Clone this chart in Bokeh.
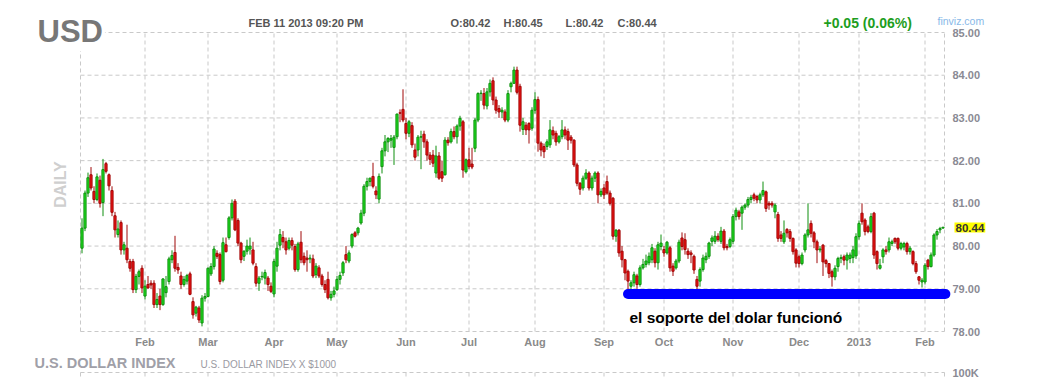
import numpy as np
import pandas as pd
from bokeh.plotting import figure
from bokeh.models import (ColumnDataSource, Range1d, FixedTicker, NumeralTickFormatter,
                          Label, Arrow, LinearAxis)
from bokeh.embed import file_html
from bokeh.resources import INLINE

# ---------------- data ----------------
first_day = "2012-01-03"
last_day = "2013-02-11"
market_holidays = ["2012-12-25", "2013-01-01"]

month_tick_labels = ["Feb", "Mar", "Apr", "May", "Jun", "Jul", "Aug", "Sep",
                     "Oct", "Nov", "Dec", "2013", "Feb"]
price_ticks = [78, 79, 80, 81, 82, 83, 84, 85]
volume_ticks = [100]
volume_tick_labels = ["100K"]

open_ = [
    79.95,80.42,81.24,81.67,81.28,81.09,81.54,81.02,81.93,81.67,81.30,80.71,80.27,80.55,79.91,79.95,79.64,79.64,78.98,79.29,79.48,
    78.83,79.10,79.13,79.13,78.63,78.83,78.63,78.91,79.17,79.68,79.85,79.50,79.30,79.10,79.18,79.35,78.70,78.43,78.55,78.20,78.78,
    78.82,79.35,79.52,79.83,79.80,79.20,80.03,80.20,80.66,81.05,80.60,80.07,79.76,79.88,79.93,79.91,79.52,79.13,79.28,79.25,79.25,79.06,
    78.88,79.53,80.02,80.20,80.10,79.95,80.13,79.99,79.45,80.09,79.76,79.72,79.70,79.70,79.33,79.49,79.30,79.10,79.22,78.79,78.87,
    78.98,79.22,79.37,79.80,79.65,80.00,80.31,80.31,80.54,80.77,81.40,81.51,81.63,81.29,81.10,81.86,82.23,82.44,82.48,82.31,82.56,83.12,83.20,
    82.87,82.64,82.82,82.25,82.25,82.55,82.62,82.44,82.13,82.13,81.71,82.11,81.74,81.67,82.48,82.44,82.68,82.56,82.81,82.91,81.74,
    82.02,81.92,82.29,82.95,83.57,83.57,83.28,83.61,83.87,83.42,83.22,83.14,83.14,82.95,83.73,83.81,84.12,83.74,82.73,82.83,82.87,82.76,
    83.18,83.43,82.41,82.33,82.33,82.37,82.70,82.64,82.44,82.56,82.72,82.68,82.55,82.48,81.90,81.47,81.36,81.59,81.71,81.36,81.59,81.71,81.20,
    81.36,81.51,81.24,81.12,80.23,80.37,79.88,79.68,79.41,79.06,79.14,79.30,79.10,79.49,79.57,79.61,79.68,79.88,79.61,79.99,
    79.92,79.84,79.96,79.53,79.49,79.65,80.19,80.15,79.88,79.84,79.76,79.22,79.18,79.45,79.68,79.76,80.11,80.11,80.23,80.11,80.35,79.99,79.99,
    80.11,80.69,80.80,80.77,80.91,80.96,81.09,81.20,81.16,81.08,81.20,81.27,81.00,81.00,80.80,80.74,80.26,80.10,80.39,80.34,80.18,79.91,
    79.75,79.59,79.91,80.26,80.53,80.31,80.10,79.91,80.02,79.66,79.59,79.40,79.28,79.52,79.71,79.75,79.67,79.71,79.73,79.77,
    80.22,80.77,80.61,80.45,80.34,80.77,79.87,79.48,79.75,79.91,79.91,80.06,80.18,80.18,79.95,79.98,80.06,79.87,79.87,79.59,79.28,79.16,
    79.16,79.67,79.52,79.79,80.26,80.38,80.42,
]
high = [
    80.65,81.30,81.72,81.85,81.40,81.70,81.65,82.04,81.97,81.70,81.40,80.80,80.60,80.60,80.10,80.50,79.70,79.70,79.35,79.45,79.55,
    79.20,79.30,79.20,79.20,78.90,79.00,79.25,79.30,79.75,79.90,80.24,79.60,79.40,79.30,79.35,79.40,78.80,78.60,78.60,78.85,78.90,
    79.50,79.60,80.00,79.90,79.85,80.20,80.20,80.70,81.09,81.10,80.65,80.10,79.90,80.15,80.20,80.10,79.60,79.30,79.40,79.45,79.30,79.15,
    79.70,80.10,80.40,80.35,80.20,80.20,80.20,80.05,80.10,80.35,79.85,79.90,79.80,79.80,79.60,79.55,79.35,79.20,79.40,78.95,79.05,
    79.30,79.40,79.65,80.00,79.90,80.30,80.35,80.45,80.85,81.45,81.60,81.60,81.95,81.40,81.70,82.30,82.60,82.55,82.60,82.60,83.10,83.20,83.67,
    83.00,82.95,82.90,82.40,82.60,82.70,82.70,82.50,82.20,82.25,82.35,82.20,82.00,82.55,82.55,82.75,82.80,82.85,83.05,82.95,82.05,
    82.30,82.30,83.00,83.60,83.65,83.70,83.70,83.90,83.95,83.50,83.30,83.25,83.20,83.65,83.85,84.20,84.20,83.80,83.00,82.90,82.90,83.25,
    83.60,83.50,82.45,82.40,82.50,82.95,82.80,82.70,82.60,82.95,82.80,82.75,82.60,82.50,81.95,81.50,81.65,81.80,81.75,81.65,81.75,81.75,81.35,
    81.45,81.65,81.30,81.15,80.40,80.40,80.00,79.70,79.45,79.20,79.40,79.35,79.55,79.70,79.80,79.85,80.05,79.95,80.10,80.27,
    80.00,80.12,80.00,79.60,79.70,80.15,80.32,80.30,79.95,79.90,79.80,79.30,79.50,79.80,79.85,80.10,80.25,80.35,80.30,80.45,80.40,80.05,80.20,
    80.75,80.90,80.85,80.95,81.00,81.15,81.20,81.25,81.20,81.25,81.51,81.30,81.05,81.05,81.00,80.80,80.35,80.60,80.42,80.40,80.20,79.95,
    79.80,79.85,80.30,81.00,80.60,80.35,80.15,80.00,80.05,79.70,79.60,79.45,79.55,79.75,79.80,79.80,79.85,79.85,80.00,80.30,
    80.60,81.00,80.65,80.50,80.77,80.80,79.90,79.70,79.95,80.00,80.20,80.15,80.20,80.20,80.10,80.10,80.10,80.00,79.90,79.65,79.30,79.25,
    79.60,79.70,79.85,80.30,80.40,80.45,80.45,
]
low = [
    79.83,80.35,81.15,81.30,81.00,81.05,80.90,80.70,81.70,81.30,80.70,80.20,80.20,79.80,79.80,79.60,79.40,78.90,78.90,79.10,78.90,
    78.75,79.00,79.00,78.55,78.55,78.50,78.60,78.80,79.10,79.60,79.40,79.35,79.00,79.05,79.10,78.85,78.30,78.35,78.20,78.12,78.70,
    78.80,79.30,79.45,79.70,79.10,79.15,79.85,80.15,80.60,80.35,80.00,79.60,79.65,79.80,79.80,79.55,79.05,78.95,79.20,79.10,78.95,78.90,
    78.80,79.40,79.90,79.95,79.80,79.90,79.90,79.40,79.40,79.60,79.55,79.40,79.60,79.25,79.25,79.25,79.05,78.90,78.75,78.72,78.80,
    78.95,79.10,79.30,79.60,79.60,79.95,80.20,80.25,80.50,80.70,81.30,81.40,81.35,81.10,81.00,81.70,82.10,82.20,82.30,81.90,82.50,82.90,82.90,
    82.50,82.55,82.30,82.00,82.10,81.80,82.30,82.00,81.90,81.85,81.60,81.55,81.50,81.65,82.35,82.40,82.50,82.40,82.70,81.60,81.70,
    81.80,81.80,82.20,82.90,83.40,83.20,83.20,83.50,83.30,83.10,83.00,83.00,82.90,82.90,83.60,83.80,83.55,82.68,82.60,82.60,82.40,82.70,
    83.10,82.21,82.10,82.06,82.25,82.30,82.50,82.35,82.40,82.50,82.50,82.25,82.40,81.85,81.40,81.20,81.30,81.55,81.30,81.30,81.50,81.00,81.15,
    81.10,81.20,80.95,80.15,80.10,79.75,79.50,79.20,78.85,78.85,79.05,79.00,79.05,79.45,79.50,79.55,79.60,79.50,79.45,79.90,
    79.75,79.80,79.40,79.30,79.45,79.60,79.90,79.80,79.70,79.60,79.35,78.98,79.05,79.40,79.60,79.70,80.00,80.05,80.10,80.05,79.90,79.90,79.95,
    80.05,80.60,80.62,80.38,80.85,80.90,81.00,81.05,81.00,81.00,81.15,80.80,80.85,80.90,80.65,80.10,80.10,80.05,80.20,80.10,79.80,79.50,
    79.50,79.55,79.85,80.20,80.20,79.95,79.60,79.85,79.30,79.50,79.25,79.05,79.20,79.40,79.60,79.55,79.45,79.60,79.60,79.70,
    80.15,80.50,80.25,80.30,80.30,79.70,79.45,79.45,79.60,79.80,79.85,80.00,80.05,79.90,79.90,79.90,79.80,79.80,79.55,79.35,79.10,79.03,
    79.10,79.45,79.50,79.75,80.15,80.30,80.42,
]
close = [
    80.42,81.24,81.60,81.36,81.09,81.62,81.00,81.79,81.75,81.41,80.79,80.38,80.40,79.91,80.03,79.68,79.48,78.98,79.29,79.40,79.02,
    79.06,79.02,79.09,78.63,78.75,78.63,79.23,79.05,79.70,79.78,79.48,79.44,79.10,79.22,79.31,78.87,78.39,78.57,78.27,78.78,78.82,
    79.48,79.52,79.93,79.76,79.17,80.08,79.87,80.66,81.00,80.38,80.07,79.68,79.88,80.00,80.00,79.60,79.13,79.25,79.29,79.38,79.10,78.94,
    79.64,79.95,80.27,80.10,79.91,80.13,80.02,79.45,80.05,79.68,79.61,79.68,79.72,79.30,79.53,79.30,79.10,78.98,78.79,78.87,78.95,
    79.22,79.31,79.61,79.68,79.84,80.27,80.23,80.42,80.77,81.40,81.51,81.59,81.40,81.20,81.63,82.23,82.44,82.52,82.52,82.55,83.09,83.11,82.95,
    82.64,82.91,82.37,82.08,82.55,82.56,82.44,82.13,82.03,81.94,82.11,81.59,81.59,82.48,82.42,82.68,82.56,82.81,82.99,81.78,82.02,
    81.86,81.85,82.95,83.57,83.58,83.30,83.61,83.81,83.42,83.18,83.14,83.18,82.95,83.57,83.81,84.12,83.60,82.83,82.91,82.72,82.72,83.18,
    83.43,82.41,82.25,82.21,82.44,82.72,82.60,82.44,82.56,82.72,82.60,82.48,82.48,81.90,81.47,81.33,81.59,81.71,81.36,81.59,81.71,81.20,81.28,
    81.20,81.24,81.00,80.23,80.37,79.84,79.68,79.37,79.18,79.14,79.33,79.10,79.49,79.57,79.65,79.76,79.96,79.61,80.03,80.07,
    79.84,80.09,79.49,79.41,79.65,80.09,79.99,79.92,79.80,79.80,79.44,79.06,79.45,79.72,79.76,80.07,80.19,80.23,80.15,80.35,79.96,79.96,80.15,
    80.69,80.84,80.69,80.91,80.96,81.09,81.14,81.12,81.08,81.20,81.30,80.88,80.96,80.96,80.96,80.18,80.18,80.30,80.31,80.18,79.87,79.60,
    79.59,79.79,80.26,80.38,80.30,80.10,79.91,79.93,79.63,79.59,79.36,79.28,79.48,79.71,79.73,79.67,79.79,79.79,79.91,80.22,
    80.53,80.57,80.34,80.34,80.69,79.79,79.59,79.55,79.91,79.87,80.10,80.10,80.10,79.95,80.06,80.06,79.87,79.95,79.59,79.40,79.20,79.20,
    79.55,79.52,79.79,80.26,80.34,80.41,80.44,
]

support_level = 78.88
support_start = "2012-09-13"

# ---------------- derived ----------------
dates = pd.bdate_range(first_day, last_day)
dates = dates[~dates.isin(pd.to_datetime(market_holidays))]
n = len(dates)
assert n == len(open_) == len(high) == len(low) == len(close), (n, len(open_), len(high), len(low), len(close))

o = np.array(open_); c = np.array(close)
h = np.maximum(np.array(high), np.maximum(o, c))
l = np.minimum(np.array(low), np.minimum(o, c))
idx = np.arange(n)
up = c > o

GREEN_FILL, GREEN_LINE = "#1ee01e", "#0f8f0f"
RED_FILL, RED_LINE = "#ee1111", "#a00808"

src = ColumnDataSource(dict(
    x=idx, h=h, l=l,
    top=np.maximum(o, c), bottom=np.minimum(o, c),
    fill=[GREEN_FILL if u else RED_FILL for u in up],
    line=[GREEN_LINE if u else RED_LINE for u in up],
))

periods = dates.to_period("M")
month_idx = [i for i in range(1, n) if periods[i] != periods[i - 1]]

# ---------------- page geometry ----------------
FONT = "Liberation Sans"
GRID = "#c9c9c9"
DASH = "4 3"
W, H = 1058, 379
TOP, BOTTOM = 32, 331            # pixel rows of 85.00 and 78.00
LEFT, RIGHT = 80, 944            # pixel columns of the panel edges
VOL_TOP = 372
P_LO, P_HI = price_ticks[0], price_ticks[-1]

xs = (RIGHT - LEFT) / n                      # pixels per trading day
ys = (BOTTOM - TOP) / (P_HI - P_LO)          # pixels per index point
x_lo, x_hi = -0.5, n - 0.5
x_start = x_lo - LEFT / xs
x_end = x_start + W / xs
y_end = P_HI + TOP / ys
y_start = P_HI - (H - TOP) / ys

# volume scale: 100K at row VOL_TOP, 0 at 40 px below
v_pp = 100.0 / 40
v_start = volume_ticks[0] - (H - VOL_TOP) * v_pp
v_end = volume_ticks[0] + VOL_TOP * v_pp

p = figure(width=W, height=H, output_backend="svg", toolbar_location=None,
           x_range=Range1d(x_start, x_end), y_range=Range1d(y_start, y_end),
           x_axis_location=None, y_axis_location=None, min_border=0)
p.extra_y_ranges = {"vol": Range1d(v_start, v_end)}
p.background_fill_color = "white"
p.border_fill_color = "white"
p.outline_line_color = None
p.grid.visible = False

# ---- dashed grid (price panel) ----
vx = month_idx + [x_lo, x_hi]
p.segment(x0=vx, x1=vx, y0=[P_LO] * len(vx), y1=[P_HI] * len(vx),
          line_color=GRID, line_dash=DASH, line_width=1)
p.segment(x0=[x_lo] * len(price_ticks), x1=[x_hi] * len(price_ticks),
          y0=price_ticks, y1=price_ticks, line_color=GRID, line_dash=DASH, line_width=1)
# ---- dashed grid (volume strip) ----
p.segment(x0=vx, x1=vx, y0=[volume_ticks[0]] * len(vx), y1=[v_start] * len(vx),
          y_range_name="vol", line_color=GRID, line_dash=DASH, line_width=1)
p.segment(x0=[x_lo], x1=[x_hi], y0=volume_ticks, y1=volume_ticks,
          y_range_name="vol", line_color=GRID, line_dash=DASH, line_width=1)

# ---- candles ----
p.segment(x0="x", y0="l", x1="x", y1="h", source=src, line_color="line", line_width=1)
p.vbar(x="x", width=0.72, top="top", bottom="bottom", source=src,
       fill_color="fill", line_color="line", line_width=1)

# ---- support line ----
s0 = float(dates.get_loc(pd.Timestamp(support_start)))
p.add_layout(Arrow(start=None, end=None, x_start=s0, y_start=support_level,
                   x_end=x_hi + 0.3, y_end=support_level,
                   line_color="#0000ff", line_width=10, line_cap="round"))

# ---- axes (drawn at fixed locations along the panel edges) ----
def style_axis(ax, color):
    ax.axis_line_color = None
    ax.major_tick_line_color = None
    ax.minor_tick_line_color = None
    ax.major_tick_out = 0
    ax.major_tick_in = 0
    ax.minor_tick_out = 0
    ax.minor_tick_in = 0
    ax.major_label_text_font = FONT
    ax.major_label_text_font_style = "bold"
    ax.major_label_text_font_size = "11px"
    ax.major_label_text_color = color

xa = LinearAxis(ticker=FixedTicker(ticks=month_idx), fixed_location=P_LO,
                major_label_overrides={int(i): t for i, t in zip(month_idx, month_tick_labels)})
style_axis(xa, "#8a8a8a")
xa.major_label_standoff = 4
p.add_layout(xa, "below")

ya = LinearAxis(ticker=FixedTicker(ticks=price_ticks), fixed_location=x_hi,
                formatter=NumeralTickFormatter(format="0.00"))
style_axis(ya, "#8a8a94")
ya.major_label_standoff = 8
p.add_layout(ya, "right")

va = LinearAxis(y_range_name="vol", ticker=FixedTicker(ticks=volume_ticks), fixed_location=x_hi,
                major_label_overrides={v: t for v, t in zip(volume_ticks, volume_tick_labels)})
style_axis(va, "#8a8a94")
va.major_label_standoff = 8
p.add_layout(va, "right")

# ---- texts ----
def lab(text, px, py, size, color, style="normal", align="left", angle=0.0, **kw):
    p.add_layout(Label(x=px, y=H - py, x_units="screen", y_units="screen",
                       text=text, text_font=FONT, text_font_size=size,
                       text_color=color, text_font_style=style, text_align=align,
                       text_baseline="middle", angle=angle, **kw))

lab("el soporte del dolar funcionó", 629, 317, "15.5px", "#000000", "bold")
lab("USD", 35, 31, "31px", "#777777", "bold", background_fill_color="white", padding=2)
lab("FEB 11 2013 09:20 PM", 248, 22, "11px", "#555555", "bold")
lab("O:80.42", 450, 22, "11px", "#555555", "bold")
lab("H:80.45", 503, 22, "11px", "#555555", "bold")
lab("L:80.42", 565, 22, "11px", "#555555", "bold")
lab("C:80.44", 617, 22, "11px", "#555555", "bold")
lab("+0.05 (0.06%)", 823, 22, "14px", "#1e9e1e", "bold")
lab("finviz.com", 937, 20, "10.5px", "#88b8e8")
lab("DAILY", 60, 184, "16px", "#cfcfcf", "bold", align="center", angle=np.pi / 2)
lab("80.44", 954, 227, "11.5px", "#333333", "bold",
    background_fill_color="#ffff00", padding=1)
lab("U.S. DOLLAR INDEX", 34, 362, "14.5px", "#a0a0a8", "bold")
lab("U.S. DOLLAR INDEX X $1000", 200, 364, "10px", "#9a9aa2")

open("out.html", "w").write(file_html(p, INLINE))
